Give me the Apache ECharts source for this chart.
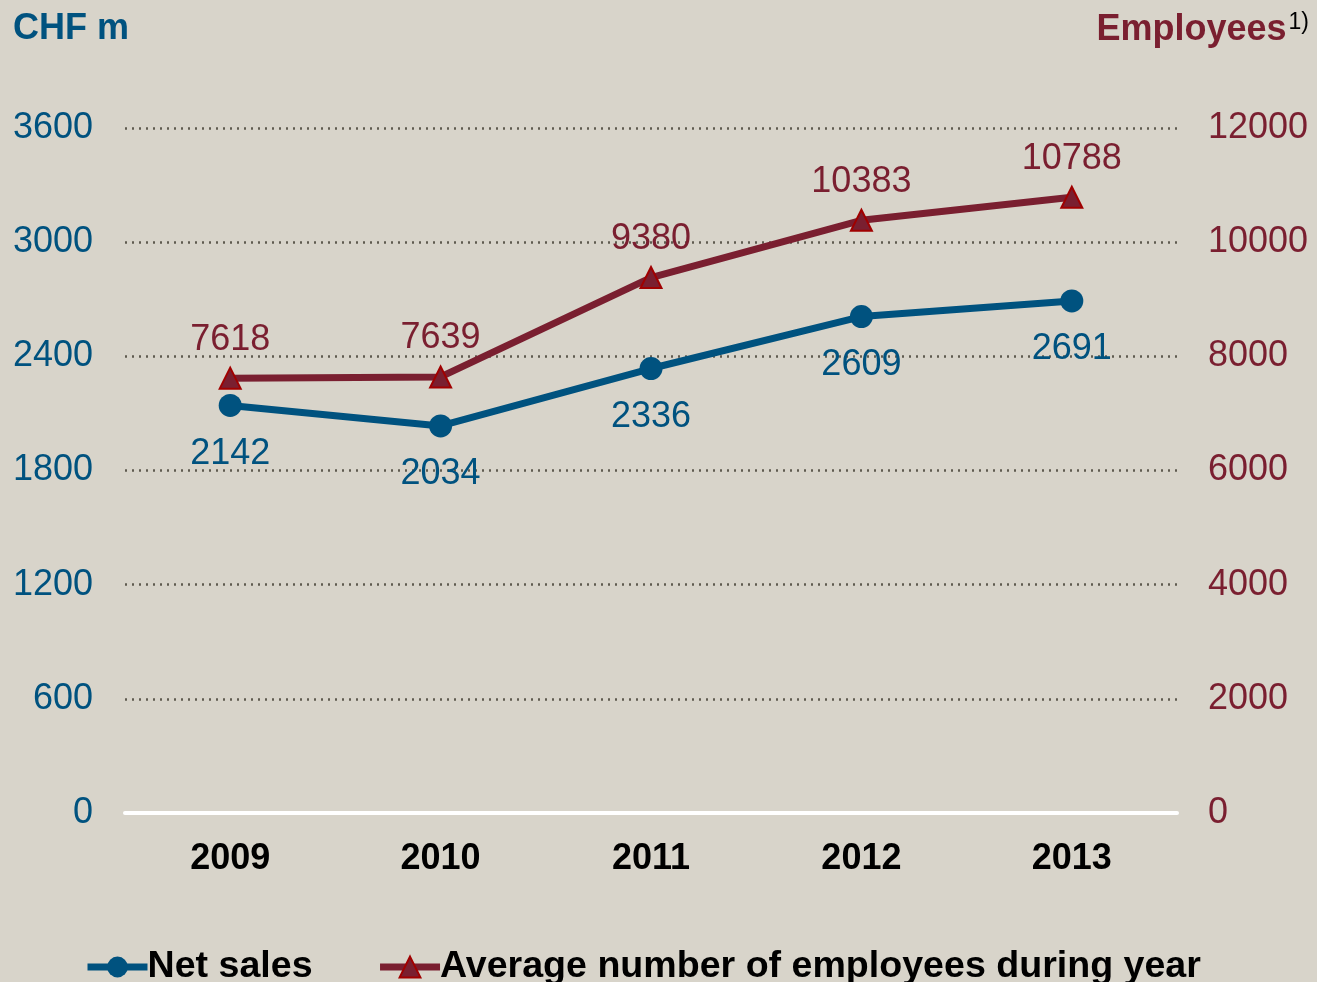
<!DOCTYPE html>
<html>
<head>
<meta charset="utf-8">
<script src="https://cdn.jsdelivr.net/npm/echarts@6/dist/echarts.min.js"></script>
<style>
  html, body { margin: 0; padding: 0; background: #d8d4ca; }
  #chart { width: 1317px; height: 982px; }
</style>
</head>
<body>
<div id="chart"></div>
<script>
const years = ['2009', '2010', '2011', '2012', '2013']
const netSales = [2142, 2034, 2336, 2609, 2691]
const employees = [7618, 7639, 9380, 10383, 10788]

const blue = '#00527f'
const red = '#7a1f30'
const font = 'Arial, "Liberation Sans", sans-serif'

const chart = echarts.init(document.getElementById('chart'))

const option = {
  backgroundColor: '#d8d4ca',
  textStyle: { fontFamily: font },
  animation: false,
  title: [
    {
      text: 'CHF m',
      left: 8,
      top: 6,
      textStyle: { color: blue, fontSize: 36, fontWeight: 'bold', fontFamily: font }
    },
    {
      text: '{a|Employees}{b|1)}',
      right: 3,
      top: 6,
      textStyle: {
        fontFamily: font,
        rich: {
          a: { color: red, fontSize: 36, fontWeight: 'bold', fontFamily: font },
          b: { color: '#000', fontSize: 23, fontWeight: 'normal', fontFamily: font, verticalAlign: 'top', padding: [0, 0, 16, 2] }
        }
      }
    }
  ],
  grid: { left: 125, right: 140, top: 128, bottom: 169 },
  legend: {
    left: 79,
    top: 943,
    itemWidth: 60,
    itemHeight: 26,
    itemGap: 64,
    lineStyle: { width: 7 },
    textStyle: { color: '#000', fontSize: 37.6, fontWeight: 'bold', fontFamily: font, padding: [0, 0, 0, -5] },
    data: ['Net sales', 'Average number of employees during year']
  },
  xAxis: {
    type: 'category',
    data: years,
    boundaryGap: true,
    axisLine: { lineStyle: { color: '#ffffff', width: 4 } },
    axisTick: { show: false },
    axisLabel: { color: '#000', fontSize: 36, fontWeight: 'bold', margin: 28, fontFamily: font }
  },
  yAxis: [
    {
      type: 'value',
      min: 0,
      max: 3600,
      interval: 600,
      axisLine: { show: false },
      axisTick: { show: false },
      axisLabel: { color: blue, fontSize: 36, margin: 32, fontFamily: font, formatter: v => String(v) },
      splitLine: { lineStyle: { color: '#5f5b50', type: [2, 5], width: 2.5 } }
    },
    {
      type: 'value',
      min: 0,
      max: 12000,
      interval: 2000,
      axisLine: { show: false },
      axisTick: { show: false },
      axisLabel: { color: red, fontSize: 36, margin: 31, fontFamily: font, formatter: v => String(v) },
      splitLine: { show: false }
    }
  ],
  series: [
    {
      name: 'Net sales',
      type: 'line',
      yAxisIndex: 0,
      data: netSales,
      z: 3,
      symbol: 'circle',
      symbolSize: 23,
      itemStyle: { color: blue },
      lineStyle: { color: blue, width: 7 },
      label: {
        show: true,
        position: 'bottom',
        distance: 19,
        color: blue,
        fontSize: 36,
        fontFamily: font
      }
    },
    {
      name: 'Average number of employees during year',
      type: 'line',
      yAxisIndex: 1,
      data: employees,
      z: 2,
      symbol: 'triangle',
      symbolSize: 21,
      itemStyle: { color: red, borderColor: '#a00000', borderWidth: 2 },
      lineStyle: { color: red, width: 7 },
      label: {
        show: true,
        position: 'top',
        distance: 9,
        color: red,
        fontSize: 36,
        fontFamily: font
      }
    }
  ]
}

chart.setOption(option)
window.addEventListener('resize', () => chart.resize())
</script>
</body>
</html>
